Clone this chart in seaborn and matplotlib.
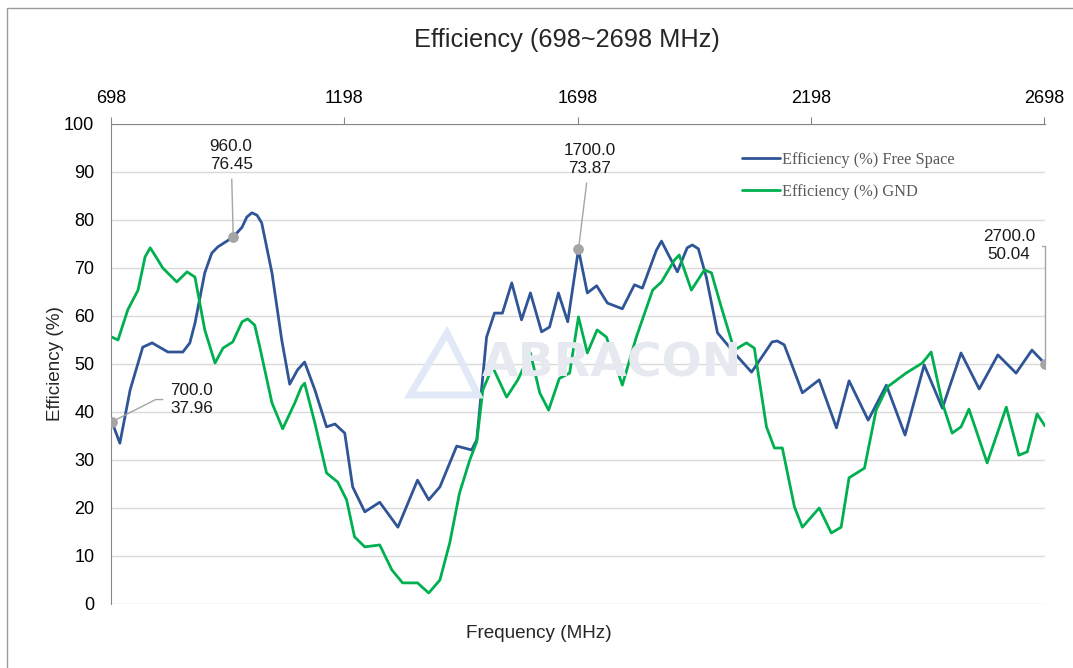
import numpy as np
import pandas as pd
import matplotlib
matplotlib.use('Agg')
import matplotlib.pyplot as plt
import seaborn as sns
from matplotlib.patches import Rectangle, Polygon

# values
fs_freq = [700, 717, 739, 756, 766, 786, 820, 852, 867, 878, 899, 914, 927, 960, 979, 989, 1000, 1011,
           1021, 1043, 1064, 1081, 1098, 1113, 1135, 1160, 1178, 1199, 1216, 1242, 1274, 1313, 1355,
           1379, 1403, 1439, 1471, 1482, 1503, 1520, 1537, 1557, 1578, 1597, 1621, 1638, 1657, 1677,
           1700, 1719, 1739, 1762, 1794, 1820, 1837, 1867, 1878, 1891, 1912, 1933, 1944, 1957, 1974,
           1998, 2034, 2071, 2115, 2126, 2141, 2156, 2180, 2216, 2253, 2280, 2321, 2360, 2400, 2441,
           2480, 2520, 2559, 2599, 2638, 2672, 2700]
fs_eff = [37.96, 33.5, 44.6, 50.2, 53.5, 54.4, 52.5, 52.5, 54.4, 58.5, 69.0, 73.1, 74.4, 76.45, 78.5, 80.6, 81.5, 81.0,
          79.4, 69.0, 55.0, 45.8, 48.8, 50.4, 44.6, 36.9, 37.5, 35.6, 24.4, 19.2, 21.2, 16.0, 25.8,
          21.7, 24.4, 32.9, 32.1, 34.2, 55.6, 60.6, 60.6, 66.9, 59.2, 64.8, 56.7, 57.7, 64.8, 58.8,
          73.87, 64.8, 66.3, 62.7, 61.5, 66.5, 65.8, 73.7, 75.6, 73.1, 69.2, 74.2, 74.8, 74.0, 68.1,
          56.5, 52.3, 48.3, 54.6, 54.8, 54.0, 50.2, 44.0, 46.7, 36.7, 46.5, 38.3, 45.6, 35.2, 49.8,
          40.8, 52.3, 44.8, 51.9, 48.1, 52.9, 50.04]

gnd_freq = [700, 713, 734, 756, 771, 782, 792, 809, 839, 861, 878, 899, 921, 938, 959, 979, 991, 1006,
            1017, 1043, 1066, 1092, 1106, 1113, 1135, 1160, 1184, 1203, 1220, 1242, 1274, 1300, 1323,
            1355, 1379, 1403, 1424, 1445, 1467, 1482, 1495, 1516, 1546, 1570, 1597, 1617, 1636, 1659,
            1681, 1700, 1719, 1740, 1760, 1794, 1824, 1859, 1878, 1906, 1916, 1942, 1970, 1985, 2006,
            2034, 2060, 2077, 2103, 2120, 2137, 2163, 2180, 2216, 2242, 2263, 2280, 2313, 2338, 2362,
            2402, 2437, 2456, 2480, 2501, 2520, 2537, 2576, 2617, 2644, 2662, 2683, 2700]
gnd_eff = [55.6, 55.0, 61.3, 65.4, 72.3, 74.2, 72.7, 70.0, 67.1, 69.2, 68.1, 57.1, 50.2, 53.3, 54.6, 58.8, 59.4, 58.1,
           53.5, 41.9, 36.5, 41.9, 45.2, 46.0, 37.7, 27.3, 25.4, 21.7, 14.0, 11.9, 12.3, 7.1, 4.4,
           4.4, 2.3, 5.0, 12.7, 23.1, 30.0, 33.8, 44.6, 49.4, 43.1, 46.7, 52.3, 44.0, 40.4, 47.0,
           48.1, 59.8, 52.3, 57.1, 55.6, 45.6, 55.6, 65.4, 67.1, 71.7, 72.7, 65.4, 69.6, 69.0, 61.9,
           52.9, 54.4, 53.3, 36.9, 32.5, 32.5, 20.2, 16.0, 20.0, 14.8, 16.0, 26.3, 28.3, 40.4, 45.2,
           48.1, 50.2, 52.5, 41.9, 35.6, 36.9, 40.6, 29.4, 41.0, 31.0, 31.7, 39.6, 37.1]

series_names = ['Efficiency (%) Free Space', 'Efficiency (%) GND']
x_ticks = [698, 1198, 1698, 2198, 2698]
y_ticks = list(range(0, 101, 10))
marked_freq = [700, 960, 1700, 2700]

df = pd.concat([
    pd.DataFrame({'Frequency': fs_freq, 'Efficiency': fs_eff, 'Series': series_names[0]}),
    pd.DataFrame({'Frequency': gnd_freq, 'Efficiency': gnd_eff, 'Series': series_names[1]}),
])

sns.set_style('white')
plt.rcParams['font.family'] = ['Liberation Sans', 'DejaVu Sans']

W, H = 1073, 668
fig = plt.figure(figsize=(W / 100, H / 100), dpi=100)
ax = fig.add_axes([111 / W, 1 - 604 / H, 934 / W, 480 / H])

# figure border
fig.patches.append(Rectangle((7 / W, -0.01), 1.1, 1 - 8 / H + 0.01, transform=fig.transFigure,
                             fill=False, edgecolor='#9a9a9a', lw=1))

# faint watermark
fig.text(612 / W, 1 - 364 / H, 'ABRACON', fontsize=34, fontweight='bold', color='#e6e9f0',
         ha='center', va='center', family='DejaVu Sans', zorder=0)
fig.patches.append(Polygon([(410 / W, 1 - 395 / H), (447 / W, 1 - 333 / H), (478 / W, 1 - 395 / H)],
                           closed=True, fill=False, edgecolor='#e1e9f8', lw=5,
                           transform=fig.transFigure, zorder=0))

blue, green = '#2F5597', '#00B050'
sns.lineplot(data=df, x='Frequency', y='Efficiency', hue='Series', palette=[blue, green],
             linewidth=2.0, ax=ax, sort=False, estimator=None)
for ln in ax.lines:
    ln.set_solid_joinstyle('round')

ax.set_xlim(698, 2700)
ax.set_ylim(0, 100)
ax.xaxis.tick_top()
ax.set_xticks(x_ticks)
ax.set_yticks(y_ticks)
ax.grid(axis='y', color='#D9D9D9', lw=1)
ax.set_axisbelow(True)
ax.patch.set_alpha(0)
for s in ['bottom', 'right']:
    ax.spines[s].set_visible(False)
for s in ['top', 'left']:
    ax.spines[s].set_color('#868686')
ax.tick_params(axis='both', direction='out', length=5, color='#868686', labelsize=13,
               labelcolor='#000000', pad=7)
ax.set_xlabel('')
ax.set_ylabel('')

# marked points with callouts
lookup = dict(zip(fs_freq, fs_eff))
ax.scatter(marked_freq, [lookup[f] for f in marked_freq], s=45, color='#A5A5A5', zorder=5)
offsets = {700: ((42, 16), 'left', dict(connectionstyle='angle,angleA=0,angleB=27,rad=0')),
           960: ((-1.5, 59), 'center', dict()),
           1700: ((8, 65), 'center', dict()),
           2700: ((-26, 85), 'center', dict(connectionstyle='angle,angleA=0,angleB=90,rad=0'))}
for f in marked_freq:
    off, ha, cs = offsets[f]
    ax.annotate(f'{f:.1f}\n{lookup[f]:.2f}', xy=(f, lookup[f]), xytext=off, textcoords='offset points',
                ha=ha, va='center', fontsize=12.3, color='#1a1a1a', linespacing=1.25,
                arrowprops=dict(arrowstyle='-', color='#A5A5A5', lw=1, shrinkA=3, shrinkB=0, **cs))

handles, labels = ax.get_legend_handles_labels()
ax.legend(handles, labels, loc='upper left', bbox_to_anchor=(742 / W, 1 - 152 / H),
          bbox_transform=fig.transFigure, frameon=False, borderpad=0, borderaxespad=0,
          handlelength=2.3, handletextpad=0.15, labelspacing=0.95,
          prop={'family': 'Liberation Serif', 'size': 11.8}, labelcolor='#595959')

fig.text(567 / W, 1 - 40 / H, 'Efficiency (698~2698 MHz)', fontsize=18.3, ha='center', va='center')
fig.text(539 / W, 1 - 634 / H, 'Frequency (MHz)', fontsize=13.6, ha='center', va='center')
fig.text(55 / W, 1 - 364 / H, 'Efficiency (%)', fontsize=13.6, ha='center', va='center', rotation=90)

fig.savefig('out.png', dpi=100)
